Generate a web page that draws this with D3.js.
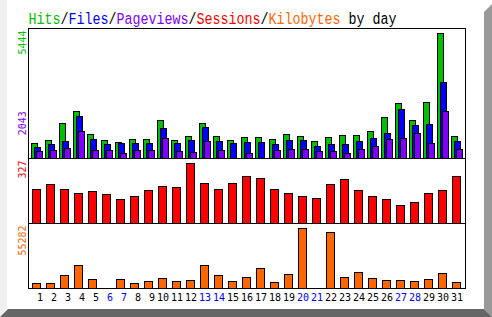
<!DOCTYPE html>
<html>
<head>
<meta charset="utf-8">
<script src="https://cdn.jsdelivr.net/npm/d3@7"></script>
<style>
  body { margin: 0; background: #fff; }
  svg { display: block; }
  text { font-family: "DejaVu Sans Mono", monospace; }
</style>
</head>
<body>
<div id="chart"></div>
<script>

var days = d3.range(1, 32);
var weekendDays = [6, 7, 13, 14, 20, 21, 27, 28];

var hits = [680, 810, 1546, 2065, 1070, 810, 723, 853, 853, 1676, 810, 983, 1546, 983, 810, 940,
            940, 853, 1070, 983, 766, 940, 1026, 1026, 1199, 1806, 2412, 1676, 2455, 5444, 983];
var files = [507, 606, 766, 1819, 853, 606, 650, 650, 650, 1329, 650, 810, 1373, 766, 650, 723,
             723, 637, 810, 810, 550, 637, 637, 766, 896, 1113, 2152, 1459, 1503, 3321, 766];
var pages = [303, 377, 463, 1199, 377, 377, 247, 377, 377, 896, 333, 290, 766, 377, 0, 247,
             0, 377, 420, 420, 333, 333, 247, 420, 550, 853, 896, 1113, 680, 2043, 420];
var sessions = [187, 210, 187, 165, 176, 160, 133, 149, 182, 203, 198, 327, 219, 187, 219, 252,
                246, 187, 165, 149, 139, 214, 236, 182, 149, 133, 101, 117, 165, 182, 257];
var kbytes = [5190, 5190, 12477, 21584, 8834, 0, 8834, 5190, 7012, 9745, 7012, 7923, 21584, 12477, 7012, 10655,
              18851, 6102, 13387, 55282, 0, 51636, 10655, 15209, 9745, 7923, 7923, 7012, 8834, 14298, 6102];

var titleParts = [
	{ text: 'Hits', color: '#00c000' }, { text: '/', color: '#000' },
	{ text: 'Files', color: '#0000ff' }, { text: '/', color: '#000' },
	{ text: 'Pageviews', color: '#8000ff' }, { text: '/', color: '#000' },
	{ text: 'Sessions', color: '#ff0000' }, { text: '/', color: '#000' },
	{ text: 'Kilobytes', color: '#ff6600' }, { text: ' by day', color: '#000' }
];

var W = 492, H = 317;
var svg = d3.select('#chart').append('svg').attr('width', W).attr('height', H);

// bevel frame
svg.append('rect').attr('width', W).attr('height', H).attr('fill', '#fff');
svg.append('polygon').attr('points', '0,0 7,0 7,309 0,317').attr('fill', '#efefef');
svg.append('polygon').attr('points', '484,12 492,4 492,317 484,309').attr('fill', '#999');
svg.append('polygon').attr('points', '0,317 8,309 484,309 492,317').attr('fill', '#666');

// title
var title = svg.append('text')
	.attr('transform', 'translate(28.5,23.5) scale(0.785,1)')
	.attr('font-size', 17)
	.style('font-family', '"Liberation Mono", monospace')
	.style('white-space', 'pre');
title.selectAll('tspan').data(titleParts).enter().append('tspan')
	.attr('fill', function(d) { return d.color; })
	.text(function(d) { return d.text; });

var x = d3.scaleBand().domain(days).range([29.5, 463.5]).paddingInner(0.4).paddingOuter(0.2);
var yMain = d3.scaleLinear().domain([0, 5444]).range([158.5, 32.5]);
var ySess = d3.scaleLinear().domain([0, 327]).range([223.5, 162.5]);
var yKb = d3.scaleLinear().domain([0, 55282]).range([288.5, 227.5]);

function cx(d) { return x(d) + x.bandwidth() / 2; }

function drawBars(values, y, color, dx, w) {
	svg.append('g').selectAll('rect').data(days).enter().append('rect')
		.filter(function(d) { return values[d - 1] > 0; })
		.attr('x', function(d) { return Math.round(cx(d) + dx) + 0.5; })
		.attr('y', function(d) { return Math.round(y(values[d - 1])) + 0.5; })
		.attr('width', w)
		.attr('height', function(d) { return y.range()[0] - Math.round(y(values[d - 1])) - 0.5; })
		.attr('fill', color)
		.attr('stroke', '#000')
		.attr('stroke-width', 1);
}

drawBars(hits, yMain, '#00c000', -5.5, 6);
drawBars(files, yMain, '#0000ff', -2.5, 6);
drawBars(pages, yMain, '#8000ff', -0.5, 6);
drawBars(sessions, ySess, '#ff0000', -4.5, 8);
drawBars(kbytes, yKb, '#ff6600', -4.5, 8);

// panel frame
svg.append('rect').attr('x', 28.5).attr('y', 28.5).attr('width', 437).attr('height', 260)
	.attr('fill', 'none').attr('stroke', '#000');
[158.5, 223.5].forEach(function(yy) {
	svg.append('line').attr('x1', 28.5).attr('x2', 465.5).attr('y1', yy).attr('y2', yy)
		.attr('stroke', '#000');
});

// day labels
svg.append('g').selectAll('text').data(days).enter().append('text')
	.attr('x', function(d) { return cx(d) + 6.5; })
	.attr('y', 301)
	.attr('text-anchor', 'end')
	.attr('font-size', 10)
	.attr('fill', function(d) { return weekendDays.indexOf(d) >= 0 ? '#0000ff' : '#000'; })
	.text(function(d) { return d; });

// max labels (vertical)
var maxLabels = [
	{ value: d3.max(hits), y: yMain(d3.max(hits)) - 2, color: '#00c000' },
	{ value: d3.max(pages), y: yMain(d3.max(pages)), color: '#8000ff' },
	{ value: d3.max(sessions), y: ySess(d3.max(sessions)) - 2, color: '#ff0000' },
	{ value: d3.max(kbytes), y: yKb(d3.max(kbytes)) - 2, color: '#ff6600' }
];
svg.append('g').selectAll('text').data(maxLabels).enter().append('text')
	.attr('transform', function(d) { return 'translate(25.5,' + d.y + ') rotate(-90)'; })
	.attr('text-anchor', 'end')
	.attr('font-size', 10)
	.attr('fill', function(d) { return d.color; })
	.text(function(d) { return d.value; });

</script>
</body>
</html>
